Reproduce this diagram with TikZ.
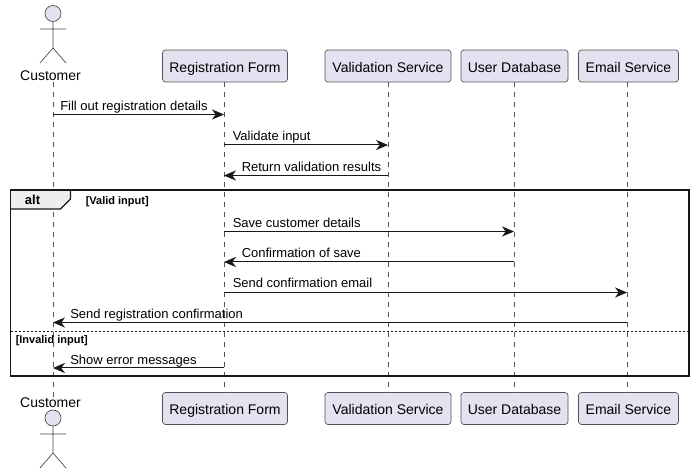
\documentclass[tikz,border=0pt]{standalone}
\usepackage{fontspec}
\setmainfont{Liberation Sans}
\usetikzlibrary{arrows.meta}
\definecolor{partfill}{HTML}{E2E2F0}
\definecolor{partline}{HTML}{181818}
\definecolor{lifeline}{HTML}{555555}
\definecolor{tabfill}{HTML}{EEEEEE}
\tikzset{
  x=0.75pt,y=-0.75pt,
  partbox/.style={draw=partline!75,fill=partfill,line width=0.5pt,rounded corners=2.25pt,minimum height=24pt,inner sep=0pt,font=\fontsize{10.5pt}{12pt}\selectfont,anchor=center,text height=11pt,text depth=1pt},
  partboxlow/.style={partbox,text height=10.2pt,text depth=1.2pt},
  actorname/.style={inner sep=0pt,font=\fontsize{10.5pt}{12pt}\selectfont,text height=7.6pt,text depth=0pt},
  actorline/.style={draw=partline!80,line width=0.5pt},
  life/.style={draw=lifeline,line width=0.5pt,dash pattern=on 3.75pt off 3.75pt},
  msg/.style={draw=partline,line width=0.75pt,-{Stealth[length=9pt,width=7.6pt,inset=2.8pt]}},
  msglabel/.style={inner sep=0pt,anchor=base west,font=\fontsize{9.75pt}{12pt}\selectfont},
  guard/.style={inner sep=0pt,anchor=base west,font=\bfseries\fontsize{8.25pt}{10pt}\selectfont},
  frameline/.style={draw=partline,line width=1.4pt},
}
\begin{document}
\begin{tikzpicture}
\useasboundingbox (0,0) rectangle (694,474);
\path[fill=white] (0,0) rectangle (694,474);
% participants
\node[partbox,minimum width=93.75pt] (rf) at (225,66) {Registration Form};
\node[partbox,minimum width=94.5pt] (vs) at (388,66) {Validation Service};
\node[partbox,minimum width=80.25pt] (ud) at (514.5,66) {User Database};
\node[partbox,minimum width=75pt] (es) at (628.5,66) {Email Service};
\node[partboxlow,minimum width=93.75pt] (rfb) at (225,408.5) {Registration Form};
\node[partboxlow,minimum width=94.5pt] (vsb) at (388,408.5) {Validation Service};
\node[partboxlow,minimum width=80.25pt] (udb) at (514.5,408.5) {User Database};
\node[partboxlow,minimum width=75pt] (esb) at (628.5,408.5) {Email Service};
\node[actorname] (cu) at (50.5,75) {Customer};
\node[actorname] (cub) at (50.5,402) {Customer};
% lifeline anchors
\coordinate (lc) at (53,82);
\coordinate (lr) at (224,82);
\coordinate (lv) at (388,82);
\coordinate (lu) at (514,82);
\coordinate (le) at (627,82);
\draw[life] (lc) -- (lc |- cub.north);
\draw[life] (lr) -- (lr |- rfb.north);
\draw[life] (lv) -- (lv |- vsb.north);
\draw[life] (lu) -- (lu |- udb.north);
\draw[life] (le) -- (le |- esb.north);
% actors
\draw[actorline,fill=partfill] (53,13.5) circle[radius=8];
\draw[actorline] (53,22) -- (53,48) (40,29) -- (66,29) (40,63) -- (53,48) -- (66,63);
\draw[actorline,fill=partfill] (53,418) circle[radius=8];
\draw[actorline] (53,426) -- (53,453) (40,434) -- (66,434) (40,468) -- (53,453) -- (66,468);
% frame
\path[fill=tabfill] (10.5,190) -- (70.5,190) -- (70.5,199) -- (60.5,209) -- (10.5,209) -- cycle;
\draw[frameline,line width=1pt] (70.5,190) -- (70.5,199) -- (60.5,209) -- (10.5,209);
\draw[frameline] (10.5,190) rectangle (689,376);
\node[inner sep=0pt,font=\bfseries\fontsize{9.75pt}{12pt}\selectfont,anchor=base] (alt) at (32.5,205) {alt};
\node[guard] (g1) at (85.5,204.5) {[Valid input]};
\node[guard] (g2) at (15.5,343.5) {[Invalid input]};
\draw[draw=partline,line width=0.75pt,dash pattern=on 1.5pt off 1.5pt] (10.5,331.5) -- (689,331.5);
% messages
\draw[msg] (lc |- 0,114.5) -- (lr |- 0,114.5);
\node[msglabel] (m1) at (60,110.5) {Fill out registration details};
\draw[msg] (lr |- 0,145) -- (lv |- 0,145);
\node[msglabel] (m2) at (232.5,141) {Validate input};
\draw[msg] (lv |- 0,175.5) -- (lr |- 0,175.5);
\node[msglabel] (m3) at (241.5,171.5) {Return validation results};
\draw[msg] (lr |- 0,231.5) -- (lu |- 0,231.5);
\node[msglabel] (m4) at (232.5,228) {Save customer details};
\draw[msg] (lu |- 0,262) -- (lr |- 0,262);
\node[msglabel] (m5) at (241.5,258) {Confirmation of save};
\draw[msg] (lr |- 0,292.5) -- (le |- 0,292.5);
\node[msglabel] (m6) at (232.5,288) {Send confirmation email};
\draw[msg] (le |- 0,322.5) -- (lc |- 0,322.5);
\node[msglabel] (m7) at (70,318.5) {Send registration confirmation};
\draw[msg] (lr |- 0,368) -- (lc |- 0,368);
\node[msglabel] (m8) at (70,364.5) {Show error messages};
\end{tikzpicture}
\end{document}
